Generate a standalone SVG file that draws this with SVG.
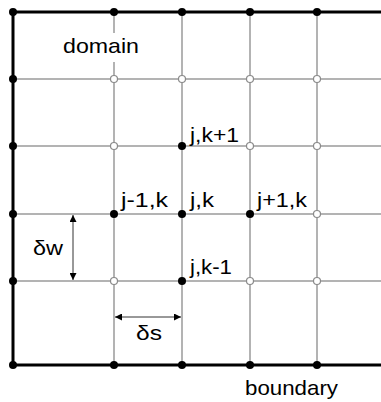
<svg xmlns="http://www.w3.org/2000/svg" width="381" height="402" viewBox="0 0 381 402">
<defs>
<style>
.grid{stroke:#9a9a9a;stroke-width:1.5;fill:none}
.bnd{stroke:#000;stroke-width:3;fill:none}
.dim{stroke:#333;stroke-width:1;fill:none}
.fill{fill:#000}
.open{fill:#fff;stroke:#8a8a8a;stroke-width:1.2}
text{font-family:"Liberation Sans",Arial,sans-serif;font-size:21px;fill:#000}
</style>
<marker id="ah" viewBox="0 0 10 10" refX="10" refY="5" markerWidth="8" markerHeight="7" markerUnits="userSpaceOnUse" orient="auto-start-reverse">
<path d="M0,0 L10,5 L0,10 z" fill="#000"/>
</marker>
</defs>
<rect width="381" height="402" fill="#fff"/>
<g id="grid">
<line class="grid" x1="13" y1="79" x2="381" y2="79"/>
<line class="grid" x1="13" y1="146" x2="381" y2="146"/>
<line class="grid" x1="13" y1="214" x2="381" y2="214"/>
<line class="grid" x1="13" y1="281" x2="381" y2="281"/>
<line class="grid" x1="114" y1="12" x2="114" y2="365"/>
<line class="grid" x1="182" y1="12" x2="182" y2="365"/>
<line class="grid" x1="250" y1="12" x2="250" y2="365"/>
<line class="grid" x1="317" y1="12" x2="317" y2="365"/>
</g>
<g id="boundary">
<polyline class="bnd" points="381,12 13,12 13,365 381,365"/>
</g>
<g id="label-domain">
<rect x="60" y="33" width="82" height="29" fill="#fff"/>
<text x="63" y="53" textLength="76" lengthAdjust="spacingAndGlyphs">domain</text>
</g>
<g id="connectors">
<line class="dim" x1="73" y1="215" x2="73" y2="280" marker-start="url(#ah)" marker-end="url(#ah)"/>
<line class="dim" x1="115" y1="317" x2="181" y2="317" marker-start="url(#ah)" marker-end="url(#ah)"/>
</g>
<g id="nodes-boundary">
<circle class="fill" cx="13" cy="12" r="4"/>
<circle class="fill" cx="114" cy="12" r="4"/>
<circle class="fill" cx="182" cy="12" r="4"/>
<circle class="fill" cx="250" cy="12" r="4"/>
<circle class="fill" cx="317" cy="12" r="4"/>
<circle class="fill" cx="13" cy="79" r="4"/>
<circle class="fill" cx="13" cy="146" r="4"/>
<circle class="fill" cx="13" cy="214" r="4"/>
<circle class="fill" cx="13" cy="281" r="4"/>
<circle class="fill" cx="13" cy="365" r="4"/>
<circle class="fill" cx="114" cy="365" r="4"/>
<circle class="fill" cx="182" cy="365" r="4"/>
<circle class="fill" cx="250" cy="365" r="4"/>
<circle class="fill" cx="317" cy="365" r="4"/>
</g>
<g id="nodes-open">
<circle class="open" cx="114" cy="79" r="3.5"/>
<circle class="open" cx="182" cy="79" r="3.5"/>
<circle class="open" cx="250" cy="79" r="3.5"/>
<circle class="open" cx="317" cy="79" r="3.5"/>
<circle class="open" cx="114" cy="146" r="3.5"/>
<circle class="open" cx="250" cy="146" r="3.5"/>
<circle class="open" cx="317" cy="146" r="3.5"/>
<circle class="open" cx="317" cy="214" r="3.5"/>
<circle class="open" cx="114" cy="281" r="3.5"/>
<circle class="open" cx="250" cy="281" r="3.5"/>
<circle class="open" cx="317" cy="281" r="3.5"/>
</g>
<g id="node-jk1">
<circle class="fill" cx="182" cy="146" r="4"/>
<text x="190" y="142" textLength="49" lengthAdjust="spacingAndGlyphs">j,k+1</text>
</g>
<g id="node-jm1k">
<circle class="fill" cx="114" cy="214" r="4"/>
<text x="121" y="207" textLength="47" lengthAdjust="spacingAndGlyphs">j-1,k</text>
</g>
<g id="node-jk">
<circle class="fill" cx="182" cy="214" r="4"/>
<text x="190" y="207" textLength="24" lengthAdjust="spacingAndGlyphs">j,k</text>
</g>
<g id="node-jp1k">
<circle class="fill" cx="250" cy="214" r="4"/>
<text x="257" y="207" textLength="50" lengthAdjust="spacingAndGlyphs">j+1,k</text>
</g>
<g id="node-jkm1">
<circle class="fill" cx="182" cy="281" r="4"/>
<text x="190" y="274" textLength="42" lengthAdjust="spacingAndGlyphs">j,k-1</text>
</g>
<g id="labels">
<text x="33" y="255" textLength="30" lengthAdjust="spacingAndGlyphs">δw</text>
<text x="136" y="340" textLength="26" lengthAdjust="spacingAndGlyphs">δs</text>
<text x="245" y="395" textLength="93" lengthAdjust="spacingAndGlyphs">boundary</text>
</g>
</svg>
